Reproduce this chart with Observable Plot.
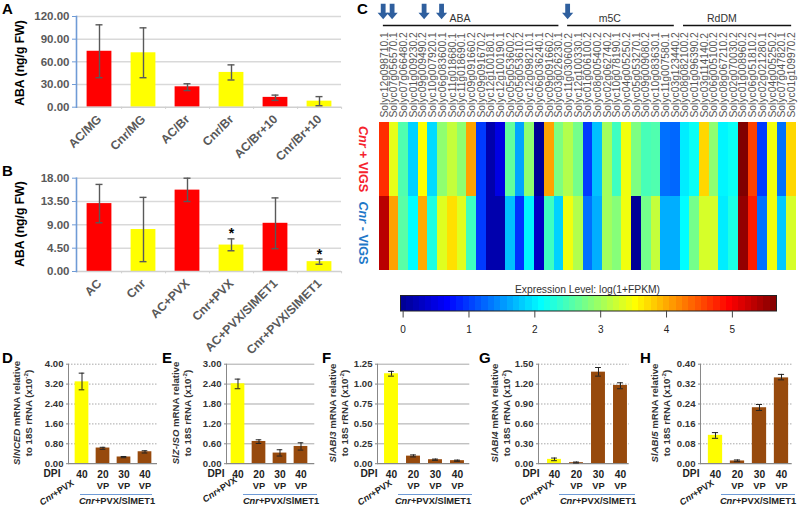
<!DOCTYPE html>
<html><head><meta charset="utf-8">
<script src="https://cdn.jsdelivr.net/npm/d3@7"></script>
<script src="https://cdn.jsdelivr.net/npm/@observablehq/plot@0.6"></script>
<style>
html,body{margin:0;padding:0;background:#fff}
#page{position:relative;width:799px;height:508px;overflow:hidden;font-family:"Liberation Sans",Arial,sans-serif}
#page svg{position:absolute;overflow:visible;background:transparent}
.t{position:absolute;white-space:nowrap;line-height:1}
.rot{transform:translate(-50%,-50%) rotate(-90deg)}
.ctr{transform:translate(-50%,-50%)}
.slant{transform:translate(-50%,-50%) rotate(-33deg)}
.cw{transform:translate(-50%,-50%) rotate(90deg)}
.letter{font-weight:bold;font-size:15px;color:#000}
sup{font-size:.65em;line-height:0}
</style></head><body><div id="page"></div>
<script>
// ---------- panel A / B data ----------
const catsA = ["AC/MG","Cnr/MG","AC/Br","Cnr/Br","AC/Br+10","Cnr/Br+10"];
const valsA = [74,72,27,46,13,8];
const lowA  = [39,39,22,36,9,2];
const highA = [109,105,31,56,16,14];
const ticksA = [0,30,60,90,120];
const catsB = ["AC","Cnr","AC+PVX","Cnr+PVX","AC+PVX/SlMET1","Cnr+PVX/SlMET1"];
const valsB = [13.1,8.1,15.7,5.1,9.3,1.9];
const lowB  = [9.4,1.9,13.5,4.0,4.4,1.4];
const highB = [16.8,14.3,18.0,6.3,14.2,2.4];
const ticksB = [0,4.5,9,13.5,18];
const starsB = ["Cnr+PVX","Cnr+PVX/SlMET1"];
const colorsAB = ["#ff0000","#ffff00","#ff0000","#ffff00","#ff0000","#ffff00"];

// ---------- panel D-H data ----------
const dpi = ["40","20","30","40"];
const vp  = ["","VP","VP","VP"];
const colorsQ = ["#ffff00","#974a0d","#974a0d","#974a0d"];
const valsD = [3.29,0.63,0.27,0.48], lowD = [2.97,0.58,0.24,0.43], highD = [3.64,0.66,0.29,0.52], ticksD = [0,0.8,1.6,2.4,3.2,4];
const valsE = [2.41,0.67,0.32,0.52], lowE = [2.26,0.61,0.23,0.41], highE = [2.55,0.72,0.42,0.63], ticksE = [0,0.6,1.2,1.8,2.4,3];
const valsF = [1.13,0.095,0.05,0.038], lowF = [1.10,0.085,0.042,0.03], highF = [1.16,0.11,0.058,0.045], ticksF = [0,0.25,0.5,0.75,1,1.25];
const valsG = [0.065,0.015,1.38,1.18], lowG = [0.045,0.01,1.32,1.13], highG = [0.085,0.025,1.45,1.22], ticksG = [0,0.3,0.6,0.9,1.2,1.5];
const valsH = [0.114,0.011,0.225,0.345], lowH = [0.102,0.008,0.214,0.337], highH = [0.125,0.015,0.238,0.359], ticksH = [0,0.08,0.16,0.24,0.32,0.4];

// ---------- panel C data ----------
const genes = ["Solyc12g098710.1","Solyc07g056570.1","Solyc07g066480.2","Solyc01g009230.2","Solyc09g009490.2","Solyc10g007920.1","Solyc06g083600.1","Solyc11g018680.1","Solyc11g018690.1","Solyc09g091660.2","Solyc09g091670.2","Solyc12g100180.1","Solyc12g100190.1","Solyc05g053600.2","Solyc05g053610.2","Solyc12g098210.1","Solyc06g036240.1","Solyc09g091660.2","Solyc03g026230.1","Solyc11g030600.2","Solyc12g100330.1","Solyc01g006100.2","Solyc08g005400.2","Solyc02g062740.2","Solyc10g078190.1","Solyc04g005250.2","Solyc05g053270.1","Solyc09g009080.2","Solyc10g083630.1","Solyc11g007580.1","Solyc03g123440.2","Solyc08g082100.2","Solyc01g096390.2","Solyc03g114140.2","Solyc06g005100.2","Solyc08g067210.2","Solyc02g070030.2","Solyc01g008960.2","Solyc06g051810.2","Solyc02g021280.1","Solyc04g005250.2","Solyc07g047820.1","Solyc01g109970.2"];
const vigsPlus = [4.7,3.4,2.55,1.85,3.53,1.9,2.9,3.2,2.9,4.05,1.0,0.15,0.5,2.65,1.6,2.9,0,4.05,2.8,3.1,2.75,1.0,1.75,3.0,2.45,3.45,2.8,2.5,2.55,1.3,1.25,2.0,2.15,3.75,2.9,2.05,2.15,5.67,4.6,1.0,3.45,1.3,3.75];
const vigsMinus = [5.35,4.05,2.6,2.1,4.0,2.25,3.35,3.7,3.35,2.45,1.0,0.15,0.15,1.75,0.95,2.05,0.3,2.45,1.85,3.45,3.1,1.3,1.65,3.0,2.85,3.45,0,2.75,3.2,1.65,1.65,2.1,2.75,3.3,3.3,2.0,2.25,5.55,4.8,1.3,3.45,1.8,3.3];
const groups = ["ABA","m5C","RdDM"];
const groupStart = [0.4,19.4,31.35];
const groupEnd = [18.5,30.4,42.5];
const groupLabelAt = [8.3,23.75,35.3];
const arrowsAt = [0.38,1.3,4.6,6.4,19.4];
const scaleTicks = [0,1,2,3,4,5];
const scaleMin = -0.04, scaleMax = 5.67;

const page = document.getElementById("page");
const FONT = '"Liberation Sans",Arial,sans-serif';
const jet = d3.scaleLinear()
  .domain([0,0.125,0.375,0.625,0.875,1])
  .range(["#00008f","#0000ff","#00ffff","#ffff00","#ff0000","#800000"]);
const jetFn = t => jet(t);

function place(plot,left,top){ plot.style.left=left+"px"; plot.style.top=top+"px"; page.appendChild(plot); }
function txt(html,x,y,cls,style){
  const d=document.createElement("div"); d.className="t "+cls; d.innerHTML=html;
  d.style.left=x+"px"; d.style.top=y+"px"; Object.assign(d.style,style||{}); page.appendChild(d);
}

// ---------- A / B ----------
function abPanel(cats,vals,low,high,ticks,top,height,mTop,mBottom,stars){
  const rows = cats.map((c,i)=>({c,v:vals[i],lo:low[i],hi:high[i],color:colorsAB[i]}));
  const marks = [
    Plot.ruleY(ticks.slice(1),{stroke:"#d9d9d9",strokeWidth:1.5}),
    Plot.barY(rows,{x:"c",y:"v",fill:"color",insetLeft:9.6,insetRight:9.6}),
    Plot.ruleY([0],{stroke:"#d0d0d0",strokeWidth:1.5}),
    Plot.ruleX(cats,{x:d=>d,dx:22.1,y1:0,y2:-ticks[ticks.length-1]*0.025,stroke:"#d0d0d0"}),
    Plot.ruleX(rows,{x:"c",y1:"lo",y2:"hi",stroke:"#595959",strokeWidth:1.4}),
    Plot.tickY(rows,{x:"c",y:"lo",stroke:"#595959",strokeWidth:1.4,insetLeft:18.5,insetRight:18.5}),
    Plot.tickY(rows,{x:"c",y:"hi",stroke:"#595959",strokeWidth:1.4,insetLeft:18.5,insetRight:18.5}),
    Plot.frame({anchor:"left",stroke:"#6f9bd6",strokeWidth:1.6}),
    Plot.axisY({ticks,tickFormat:d=>d.toFixed(2),label:null,tickSize:4,tickPadding:3,stroke:"#6f9bd6",fill:"#595959",fontSize:11.5,fontWeight:"bold"}),
    Plot.axisX({label:null,tickSize:0,tickPadding:10,tickRotate:-45,fill:"#595959",fontSize:12.2,fontWeight:"bold"})
  ];
  if(stars) marks.push(Plot.text(rows.filter(r=>stars.includes(r.c)),{x:"c",y:"hi",text:()=>"*",dy:-5,fontSize:14,fontWeight:"bold",fill:"#000"}));
  const plot = Plot.plot({width:345,height,marginLeft:76,marginRight:4,marginTop:mTop,marginBottom:mBottom,
    style:{fontFamily:FONT,background:"transparent"},
    x:{domain:cats,padding:0,axis:null},y:{domain:[0,ticks[ticks.length-1]],axis:null},marks});
  place(plot,0,top);
}
abPanel(catsA,valsA,lowA,highA,ticksA,0,165,16,58.3);
abPanel(catsB,valsB,lowB,highB,ticksB,165,190,12.7,84,starsB);
txt("ABA (ng/g FW)",20,63,"rot",{fontWeight:"bold",fontSize:"12.2px",color:"#000"});
txt("ABA (ng/g FW)",20,224,"rot",{fontWeight:"bold",fontSize:"12.2px",color:"#000"});

// ---------- C ----------
const heat = [];
genes.forEach((g,i)=>{ heat.push({i,row:0,v:vigsPlus[i]}); heat.push({i,row:1,v:vigsMinus[i]}); });
const colIdx = d3.range(genes.length);
const arrowSymbol = {draw(ctx){ // block arrow pointing down
  ctx.moveTo(-2.4,-8); ctx.lineTo(2.4,-8); ctx.lineTo(2.4,1); ctx.lineTo(5.6,1);
  ctx.lineTo(0,7.5); ctx.lineTo(-5.6,1); ctx.lineTo(-2.4,1); ctx.closePath(); }};
const heatPlot = Plot.plot({width:430,height:275,marginLeft:9,marginRight:4,marginTop:121.7,marginBottom:5,
  style:{fontFamily:FONT,background:"transparent"},
  x:{type:"linear",domain:[0,genes.length],axis:null},
  y:{type:"linear",domain:[0,2],axis:null,reverse:true},
  color:{type:"linear",domain:[scaleMin,scaleMax],interpolate:jetFn},
  marks:[
    Plot.rect(heat,{x1:"i",x2:d=>d.i+1,y1:"row",y2:d=>d.row+1,fill:"v",shapeRendering:"crispEdges"}),
    Plot.text(colIdx,{x:d=>d+0.5,y:()=>0,text:d=>genes[d],rotate:-90,textAnchor:"start",dy:-4.7,fontSize:10.3,fill:"#555"}),
    Plot.ruleY(groups,{x1:(d,i)=>groupStart[i],x2:(d,i)=>groupEnd[i],y:()=>0,dy:-96.7,stroke:"#111",strokeWidth:1.6}),
    Plot.text(groups,{x:(d,i)=>groupLabelAt[i],y:()=>0,text:d=>d,dy:-103.5,fontSize:10.5,fill:"#333"}),
    Plot.dot(arrowsAt,{x:d=>d,y:()=>0,dy:-110.5,symbol:arrowSymbol,fill:"#2f5f9e",stroke:"none"})
  ]});
place(heatPlot,370,0);
txt("<i>Cnr</i> + VIGS",363,159,"cw",{fontWeight:"bold",fontSize:"12.6px",color:"#f5222d"});
txt("<i>Cnr</i> - VIGS",363,233,"cw",{fontWeight:"bold",fontSize:"12.6px",color:"#1f78c8"});

// colour bar
const barSteps = d3.range(scaleMin,scaleMax,(scaleMax-scaleMin)/60);
const barW=(scaleMax-scaleMin)/60;
const barPlot = Plot.plot({width:390,height:50,marginLeft:7,marginRight:7,marginTop:5,marginBottom:29.5,
  style:{fontFamily:FONT,background:"transparent"},
  x:{type:"linear",domain:[scaleMin,scaleMax],axis:null},
  color:{type:"linear",domain:[scaleMin,scaleMax],interpolate:jetFn},
  marks:[
    Plot.rect(barSteps,{x1:d=>d,x2:d=>d+barW,fill:d=>d+barW/2,shapeRendering:"crispEdges"}),
    Plot.frame({stroke:"#222",strokeWidth:1}),
    Plot.axisX({ticks:scaleTicks,label:null,tickSize:7,tickPadding:8,fontSize:10,fill:"#222",stroke:"#444",tickFormat:d=>d})
  ]});
place(barPlot,393,290);
txt("Expression Level: log(1+FPKM)",587.5,290,"ctr",{fontSize:"10.3px",color:"#333"});

// ---------- D-H ----------
function qPanel(vals,low,high,ticks,axisL,axisR,c0,c3,grid,labels){
  const ids = [0,1,2,3];
  const step=(c3-c0)/3, boxL=axisL-50, W=axisR-boxL+2;
  const rows = ids.map(i=>({i,v:vals[i],lo:low[i],hi:high[i],color:colorsQ[i],dpi:dpi[i],vp:vp[i]}));
  const inset=(step-14.6)/2, cap=(step-6.5)/2;
  const plot = Plot.plot({width:W,height:120,marginLeft:50,marginRight:2,marginTop:18.7,marginBottom:120-(463.2-345),
    style:{fontFamily:FONT,background:"transparent"},
    x:{type:"band",domain:ids,range:[c0-step/2-boxL,c3+step/2-boxL],padding:0,axis:null},
    y:{domain:[0,ticks[ticks.length-1]],axis:null},
    marks:[
      Plot.ruleY(ticks.slice(1),{stroke:"#a8a8a8",strokeWidth:1,strokeDasharray:grid}),
      Plot.barY(rows,{x:"i",y:"v",fill:"color",insetLeft:inset,insetRight:inset}),
      Plot.ruleY([0],{stroke:"#888",strokeWidth:1.2}),
      Plot.ruleX(rows,{x:"i",y1:"lo",y2:"hi",stroke:"#222",strokeWidth:1}),
      Plot.tickY(rows,{x:"i",y:"lo",stroke:"#222",strokeWidth:1,insetLeft:cap,insetRight:cap}),
      Plot.tickY(rows,{x:"i",y:"hi",stroke:"#222",strokeWidth:1,insetLeft:cap,insetRight:cap}),
      Plot.frame({anchor:"left",stroke:"#888",strokeWidth:1}),
      Plot.axisY({ticks,tickFormat:d=>d.toFixed(2),label:null,tickSize:2,tickPadding:3,stroke:"#888",fill:"#333",fontSize:9.6,fontWeight:"bold"}),
      Plot.text(rows,{x:"i",y:()=>0,text:"dpi",dy:11,fontSize:10.2,fontWeight:"bold",fill:"#222"}),
      Plot.text(rows,{x:"i",y:()=>0,text:"vp",dy:22.3,fontSize:9.3,fontWeight:"bold",fill:"#222"})
    ]});
  place(plot,boxL,345);
  txt("DPI",labels.dpiX,474.2,"ctr",{fontSize:"10.2px",fontWeight:"bold",color:"#222"});
  txt("<i>Cnr</i>+PVX",labels.cnrX,labels.cnrY,"slant",{fontSize:"9px",fontWeight:"bold",color:"#222"});
  const rule=document.createElement("div");
  rule.className="t"; Object.assign(rule.style,{left:labels.lineL+"px",top:"493.6px",width:(labels.lineR-labels.lineL)+"px",height:"1.2px",background:"#6f9bd6"}); page.appendChild(rule);
  txt("<i>Cnr</i>+PVX/SlMET1",labels.nameX,502,"ctr",{fontSize:"9.3px",fontWeight:"bold",color:"#222"});
}
qPanel(valsD,lowD,highD,ticksD,68,157,80,145.7,"1.5 1.5",{dpiX:52,cnrX:57,cnrY:493,lineL:80,lineR:152,nameX:117});
qPanel(valsE,lowE,highE,ticksE,225.7,314,236,301.7,null,{dpiX:216,cnrX:220,cnrY:490,lineL:243,lineR:317,nameX:281});
qPanel(valsF,lowF,highF,ticksF,376.7,469,390,458,null,{dpiX:369,cnrX:375,cnrY:493,lineL:398,lineR:472,nameX:433});
qPanel(valsG,lowG,highG,ticksG,538.3,629,553,621,"1.5 1.5",{dpiX:531,cnrX:537,cnrY:493,lineL:559,lineR:635,nameX:598});
qPanel(valsH,lowH,highH,ticksH,700,791.7,714,781,"1.5 1.5",{dpiX:691,cnrX:697,cnrY:493,lineL:721,lineR:795,nameX:758});

function yTitle(gene,x){
  const s={fontSize:"9.6px",fontWeight:"bold",color:"#333"};
  txt(`<i>${gene}</i> mRNA relative`,x,413,"rot",s);
  txt(`to 18S rRNA (x10<sup>-2</sup>)`,x+11.5,413,"rot",s);
}
yTitle("SlNCED",17); yTitle("SlZ-ISO",176); yTitle("SlABI3",333); yTitle("SlABI4",495); yTitle("SlABI5",655);

// ---------- panel letters ----------
[["A",2,13],["B",2,175],["C",357,13],["D",2,362],["E",162,362],["F",322,362],["G",479,362],["H",640,362]]
  .forEach(([l,x,y])=>txt(l,x,y-12,"letter"));
</script></body></html>
